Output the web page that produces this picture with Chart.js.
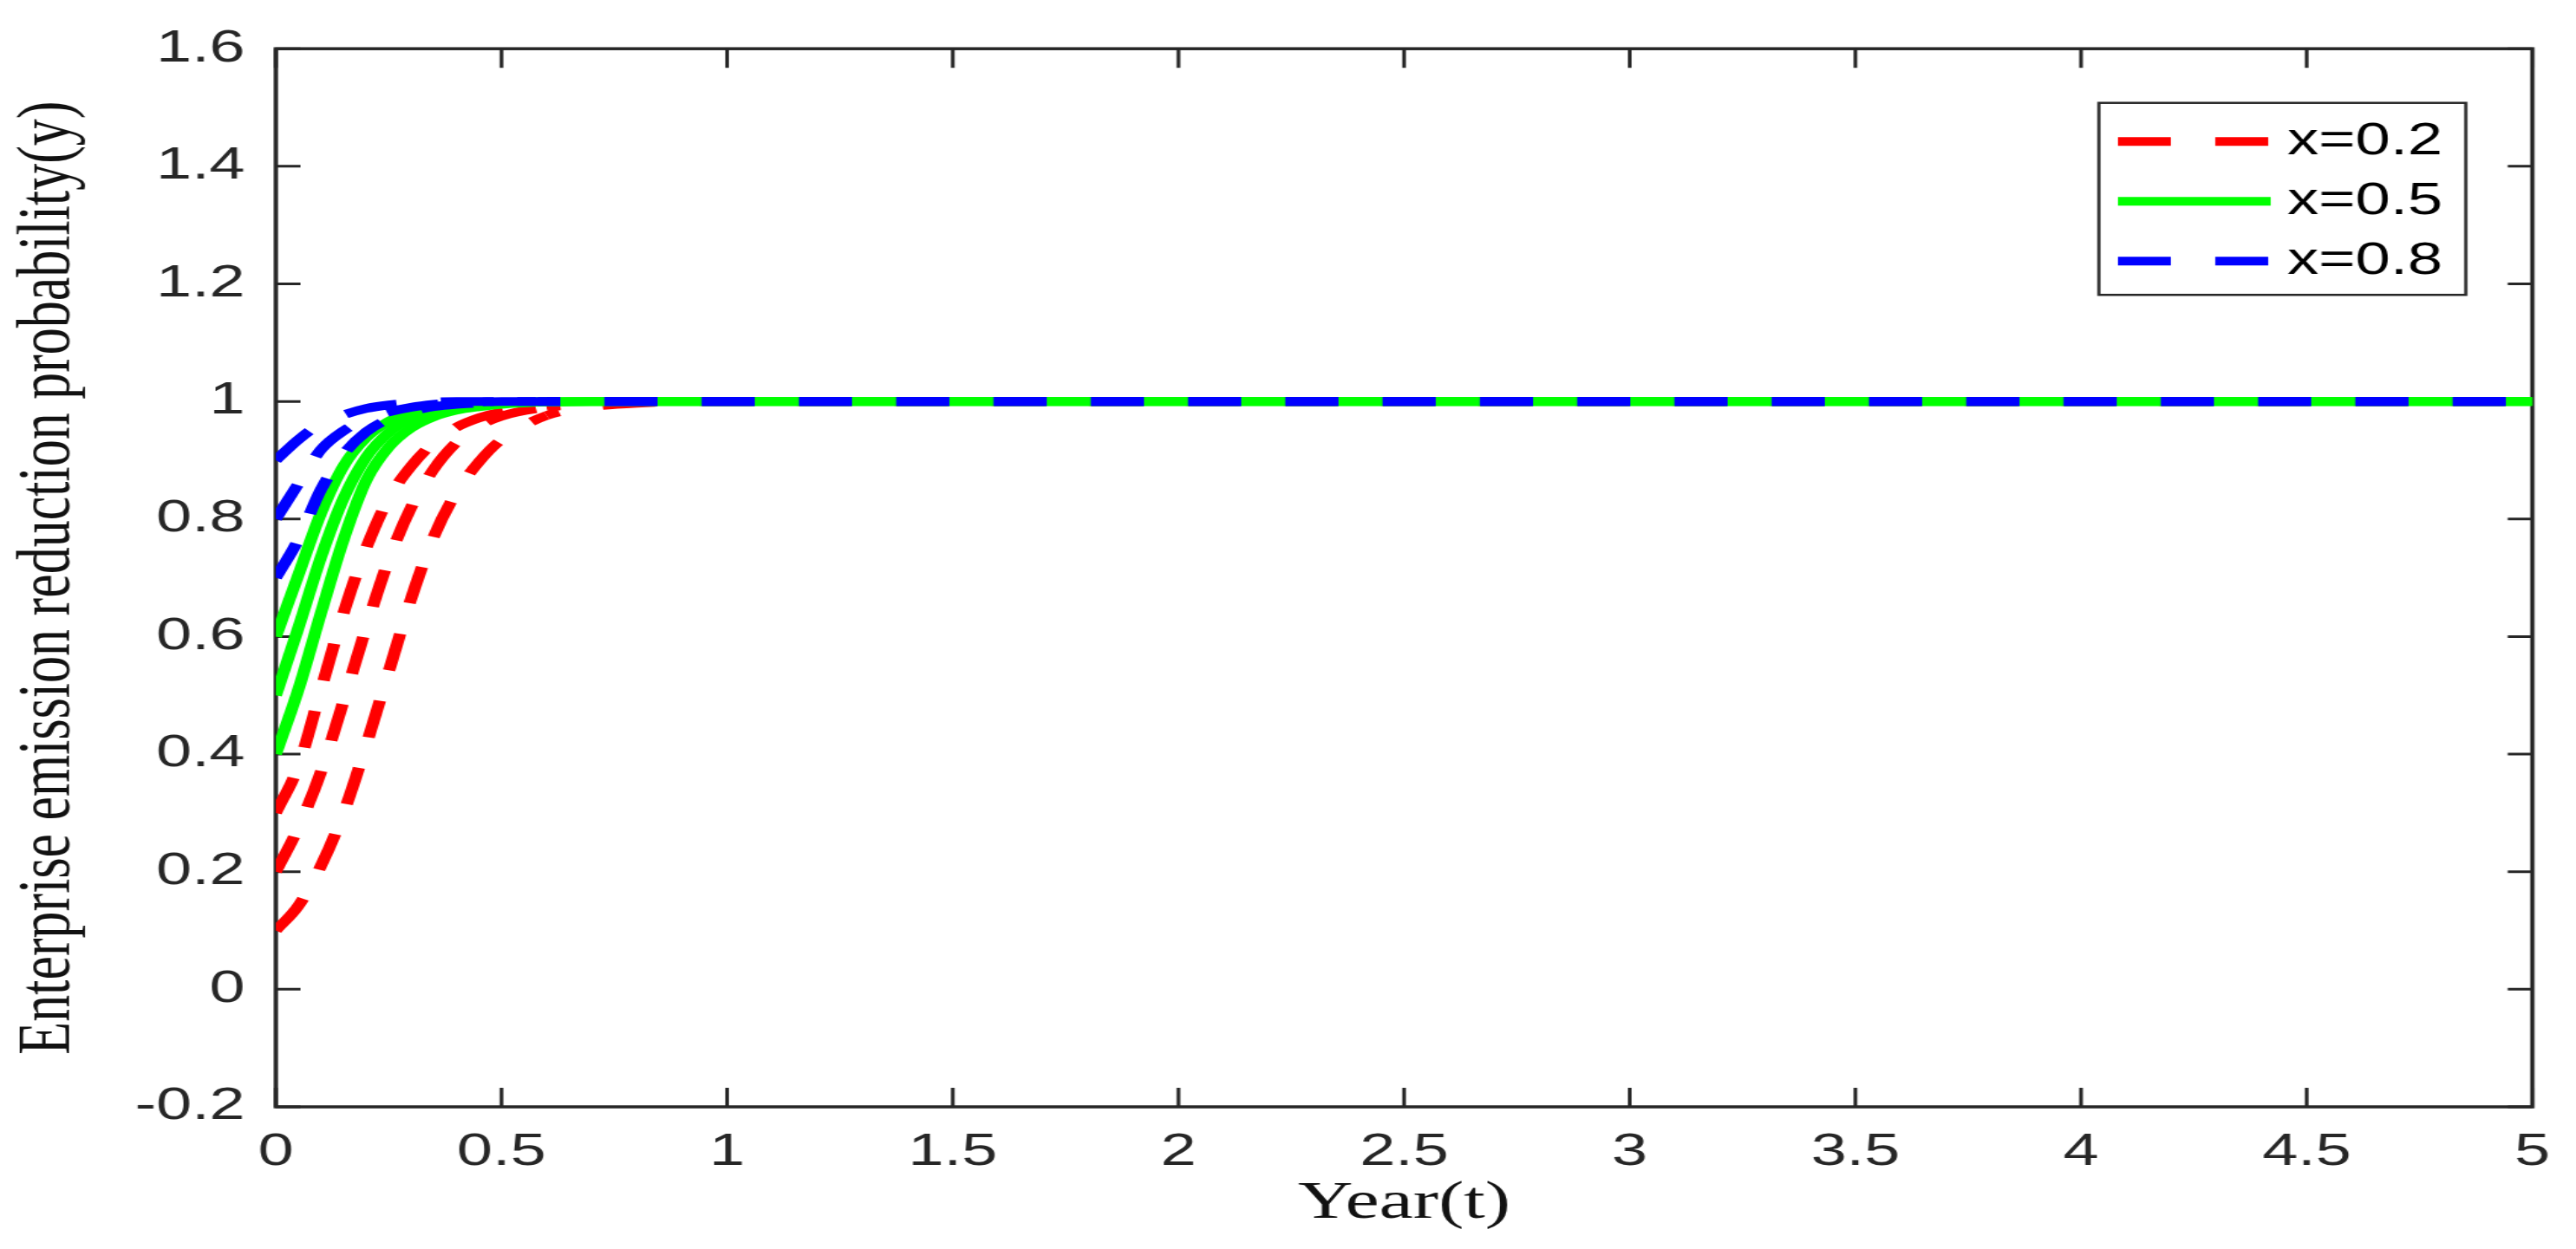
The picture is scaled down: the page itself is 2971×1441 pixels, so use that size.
<!DOCTYPE html>
<html>
<head>
<meta charset="utf-8">
<script src="https://cdn.jsdelivr.net/npm/chart.js@4.4.1/dist/chart.umd.min.js"></script>
<style>
html,body{margin:0;padding:0;background:#fff;overflow:hidden}
canvas{display:block}
</style>
</head>
<body>
<canvas id="c" width="2092" height="1441" style="width:2971px;height:1441px"></canvas>
<script>
// ---- data ----
const timePoints = [0, 0.05, 0.1, 0.15, 0.2, 0.25, 0.3, 0.35, 0.4, 0.45, 0.5, 0.6, 0.7, 0.8, 1, 5];

const redY01   = [0.10, 0.142, 0.21, 0.30, 0.415, 0.54, 0.665, 0.77, 0.845, 0.897, 0.935, 0.976, 0.991, 0.997, 1, 1];
const redY02   = [0.20, 0.275, 0.37, 0.49, 0.615, 0.73, 0.82, 0.885, 0.93, 0.958, 0.975, 0.99, 0.996, 0.999, 1, 1];
const redY03   = [0.30, 0.38, 0.51, 0.64, 0.75, 0.835, 0.89, 0.93, 0.956, 0.972, 0.982, 0.993, 0.997, 0.999, 1, 1];
const greenY04 = [0.40, 0.51, 0.64, 0.765, 0.865, 0.922, 0.955, 0.974, 0.985, 0.991, 0.995, 0.999, 1, 1, 1, 1];
const greenY05 = [0.50, 0.615, 0.735, 0.835, 0.905, 0.947, 0.971, 0.984, 0.992, 0.995, 0.997, 0.999, 1, 1, 1, 1];
const greenY06 = [0.60, 0.705, 0.81, 0.89, 0.938, 0.966, 0.982, 0.99, 0.995, 0.997, 0.998, 1, 1, 1, 1, 1];
const blueY07  = [0.70, 0.765, 0.85, 0.91, 0.948, 0.97, 0.983, 0.991, 0.995, 0.997, 0.999, 1, 1, 1, 1, 1];
const blueY08  = [0.80, 0.86, 0.918, 0.95, 0.97, 0.982, 0.99, 0.995, 0.998, 0.999, 1, 1, 1, 1, 1, 1];
const blueY09  = [0.90, 0.935, 0.962, 0.977, 0.988, 0.994, 0.997, 0.999, 1, 1, 1, 1, 1, 1, 1, 1];

const legendLabels = ['x=0.2', 'x=0.5', 'x=0.8'];

const xTickValues = [0, 0.5, 1, 1.5, 2, 2.5, 3, 3.5, 4, 4.5, 5];
const xTickLabels = ['0', '0.5', '1', '1.5', '2', '2.5', '3', '3.5', '4', '4.5', '5'];
const yTickValues = [-0.2, 0, 0.2, 0.4, 0.6, 0.8, 1, 1.2, 1.4, 1.6];
const yTickLabels = ['-0.2', '0', '0.2', '0.4', '0.6', '0.8', '1', '1.2', '1.4', '1.6'];

const xTitle = 'Year(t)';
const yTitle = 'Enterprise emission reduction probability(y)';

// ---- styles ----
const RED = '#ff0000', GREEN = '#00ff00', BLUE = '#0000ff';
const DASH = [43, 36];
const AXIS = '#262626';
const PHASE_X = 0.6;      // from here on the dashed curves run flat and in phase
const PHASE_OFFSET = 32;

function pts(ys) { return timePoints.map((t, i) => ({x: t, y: ys[i]})); }
function ds(label, ys, color, dash, order) {
  return {
    label, data: pts(ys), borderColor: color, backgroundColor: color,
    borderWidth: 10, borderDash: dash, borderDashOffset: 0, borderCapStyle: 'butt',
    pointRadius: 0, fill: false, cubicInterpolationMode: 'monotone',
    order,
    segment: dash.length ? {
      borderDashOffset: c => (c.p0.parsed.x >= PHASE_X - 1e-9 ? PHASE_OFFSET : undefined)
    } : undefined
  };
}

const datasets = [
  ds('x=0.2 (y0=0.1)', redY01, RED, DASH, 3),
  ds('x=0.2 (y0=0.2)', redY02, RED, DASH, 3),
  ds('x=0.2 (y0=0.3)', redY03, RED, DASH, 3),
  ds('x=0.5 (y0=0.4)', greenY04, GREEN, [], 2),
  ds('x=0.5 (y0=0.5)', greenY05, GREEN, [], 2),
  ds('x=0.5 (y0=0.6)', greenY06, GREEN, [], 2),
  ds('x=0.8 (y0=0.7)', blueY07, BLUE, DASH, 1),
  ds('x=0.8 (y0=0.8)', blueY08, BLUE, DASH, 1),
  ds('x=0.8 (y0=0.9)', blueY09, BLUE, DASH, 1)
];

const boxPlugin = {
  id: 'matlabBox',
  beforeDatasetsDraw(chart) {
    const {ctx, chartArea: a, scales: {x, y}} = chart;
    ctx.save();
    ctx.strokeStyle = AXIS;
    ctx.lineWidth = 3;
    ctx.beginPath();
    xTickValues.forEach(v => {
      const px = x.getPixelForValue(v);
      ctx.moveTo(px, a.bottom); ctx.lineTo(px, a.bottom - 22);
      ctx.moveTo(px, a.top); ctx.lineTo(px, a.top + 22);
    });
    yTickValues.forEach(v => {
      const py = y.getPixelForValue(v);
      ctx.moveTo(a.left, py); ctx.lineTo(a.left + 20, py);
      ctx.moveTo(a.right, py); ctx.lineTo(a.right - 20, py);
    });
    ctx.stroke();
    ctx.lineWidth = 3.5;
    ctx.strokeRect(a.left, a.top, a.right - a.left, a.bottom - a.top);
    ctx.restore();
  },
  afterDraw(chart) {
    const {ctx, chartArea: a} = chart;
    const bx = a.right - 352, by = a.top + 62.5, bw = 298, bh = 221.5;
    ctx.save();
    ctx.fillStyle = '#ffffff';
    ctx.fillRect(bx, by, bw, bh);
    ctx.strokeStyle = AXIS;
    ctx.lineWidth = 2.5;
    ctx.strokeRect(bx, by, bw, bh);
    const reps = [0, 3, 6];
    reps.forEach((di, i) => {
      const d = chart.data.datasets[di];
      const cy = by + 44.5 + i * 69;
      ctx.beginPath();
      ctx.setLineDash(d.borderDash);
      ctx.lineDashOffset = 0;
      ctx.strokeStyle = d.borderColor;
      ctx.lineWidth = 10;
      ctx.lineCap = 'butt';
      ctx.moveTo(bx + 15.5, cy);
      ctx.lineTo(bx + 139.5, cy);
      ctx.stroke();
      ctx.setLineDash([]);
      ctx.fillStyle = '#000';
      ctx.font = '51px "Liberation Sans", Arial, sans-serif';
      ctx.textAlign = 'left';
      ctx.textBaseline = 'middle';
      ctx.fillText(legendLabels[i], bx + 153, cy + 1);
    });
    ctx.restore();
  }
};

new Chart(document.getElementById('c'), {
  type: 'line',
  data: {datasets},
  plugins: [boxPlugin],
  options: {
    responsive: false,
    devicePixelRatio: 1,
    animation: false,
    events: [],
    layout: {padding: {left: 0, right: 25.4, top: 42, bottom: 0}},
    plugins: {legend: {display: false}, tooltip: {enabled: false}},
    scales: {
      x: {
        type: 'linear', min: 0, max: 5,
        afterBuildTicks: s => { s.ticks = xTickValues.map(v => ({value: v})); },
        afterFit: s => { s.height = 164; },
        grid: {display: false, drawTicks: false},
        border: {display: false},
        ticks: {
          padding: 21, color: AXIS, maxRotation: 0, autoSkip: false,
          font: {family: '"Liberation Sans", Arial, sans-serif', size: 52},
          callback: (v, i) => xTickLabels[i]
        },
        title: {
          display: true, text: xTitle, color: '#111',
          font: {family: '"Liberation Serif", "Times New Roman", serif', size: 62},
          padding: {top: 0, bottom: 15}
        }
      },
      y: {
        type: 'linear', min: -0.2, max: 1.6,
        afterBuildTicks: s => { s.ticks = yTickValues.map(v => ({value: v})); },
        afterFit: s => { s.width = 224; },
        grid: {display: false, drawTicks: false},
        border: {display: false},
        ticks: {
          padding: 25, color: AXIS, autoSkip: false,
          font: {family: '"Liberation Sans", Arial, sans-serif', size: 52},
          callback: (v, i) => yTickLabels[i]
        },
        title: {
          display: true, text: yTitle, color: '#111',
          font: {family: '"Liberation Serif", "Times New Roman", serif', size: 62},
          padding: {top: 3, bottom: 0}
        }
      }
    }
  }
});
</script>
</body>
</html>
